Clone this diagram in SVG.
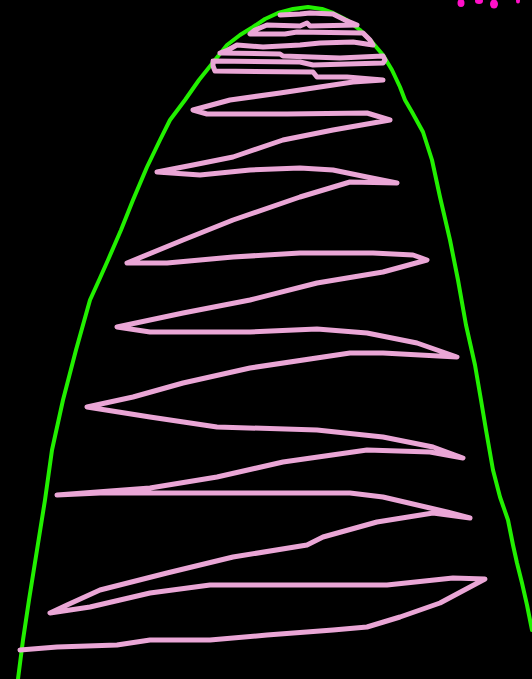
<svg xmlns="http://www.w3.org/2000/svg" width="532" height="679" viewBox="0 0 532 679">
<style>
.bg{fill:#000}
.green{fill:none;stroke:#22f000;stroke-width:4;stroke-linejoin:round;stroke-linecap:round}
.pink{fill:none;stroke:#eaa6d6;stroke-width:5;stroke-linejoin:round;stroke-linecap:round}
.mag{fill:#ff10c8}
</style>
<rect class="bg" x="0" y="0" width="532" height="679"/>
<g id="outline">
<path class="green" d="M18,679 L23,640 L29,600 L37,550 L45,500 L52,450 L63,400 L76,350 L90,300 L100,278 L108,260 L121,230 L133,200 L147,167 L160,140 L170,120 L185,100 L199,80 L215,60 L227,45 L240,35 L253,27 L265,19 L278,13 L293,9 L308,7 L322,9 L333,13 L347,20 L360,30 L372,42 L383,55 L392,70 L400,87 L405,100 L412,112 L423,132 L432,160 L440,197 L450,240 L458,280 L466,325 L475,365 L481,400 L486,430 L493,470 L500,497 L508,520 L513,545 L517,563 L522,583 L527,605 L532,630"/>
</g>
<g id="scribble">
<path class="pink" d="M280,15 L300,14 L310,13 L333,14 L345,20 L357,25 L310,26 L307,23 L300,26 L267,25 L255,30 L250,34 L285,34 L297,32 L363,33 L370,40 L373,45 L353,42 L320,43 L300,45 L263,47 L237,45 L228,50 L220,53 L280,54 L283,56 L340,58 L383,56 L385,60 L383,63 L313,65 L300,62 L213,61 L213,66 L215,71 L313,72 L317,77 L347,77 L383,80 L353,82 L280,93 L230,100 L193,110 L207,114 L287,114 L367,113 L390,120 L333,130 L283,140 L233,157 L193,165 L157,172 L200,175 L250,170 L300,168 L333,170 L367,177 L397,183 L350,182 L300,197 L233,220 L183,240 L127,263 L167,263 L233,257 L300,253 L373,253 L413,255 L427,260 L383,272 L317,283 L250,300 L183,313 L117,327 L150,332 L250,332 L317,329 L367,333 L417,343 L457,357 L383,353 L350,353 L250,368 L183,383 L133,397 L87,407 L150,417 L217,427 L317,430 L383,437 L433,447 L463,458 L430,452 L367,450 L283,462 L217,477 L150,488 L57,495 L100,493 L350,493 L383,497 L447,512 L470,518 L433,513 L377,522 L323,537 L307,545 L233,557 L167,573 L100,590 L67,605 L50,613 L90,607 L150,593 L210,585 L387,585 L453,578 L485,579 L440,603 L400,617 L367,627 L333,630 L267,635 L210,640 L150,640 L117,645 L57,647 L20,650"/>
</g>
<g id="corner-marks">
<ellipse class="mag" cx="461" cy="3" rx="3.5" ry="4"/>
<ellipse class="mag" cx="479" cy="1" rx="4" ry="3"/>
<ellipse class="mag" cx="494" cy="4" rx="4" ry="4.5"/>
<ellipse class="mag" cx="518" cy="1" rx="2" ry="2.5"/>
</g>
</svg>
